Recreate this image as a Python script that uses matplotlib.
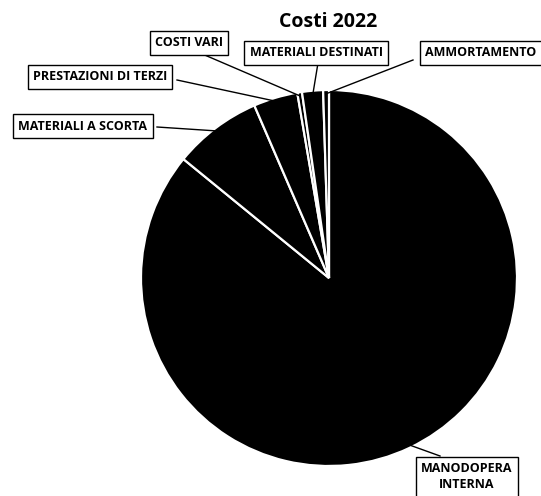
import numpy as np
import matplotlib
matplotlib.use("Agg")
import matplotlib.pyplot as plt

title = "Costi 2022"
categories = ["MANODOPERA\nINTERNA", "MATERIALI A SCORTA", "PRESTAZIONI DI TERZI",
              "COSTI VARI", "MATERIALI DESTINATI", "AMMORTAMENTO"]
values = [85.9, 7.6, 3.8, 0.4, 1.8, 0.5]

W, H = 541, 496
fig = plt.figure(figsize=(W / 100, H / 100), dpi=100)
ax = fig.add_axes([0, 0, 1, 1])

def P(x, y):
    return (x, H - y)

cx, cy = P(329, 278)
R = 188
wedges, _ = ax.pie(values, startangle=90, counterclock=False, center=(cx, cy), radius=R,
                   colors=["black"] * len(values),
                   wedgeprops=dict(edgecolor="white", linewidth=1.6))
ax.set_xlim(0, W)
ax.set_ylim(0, H)
ax.set_aspect("equal")
ax.axis("off")

fam = ["Open Sans", "DejaVu Sans"]
ax.text(*P(328, 22), title, ha="center", va="center", fontsize=14, family=fam,
        fontweight="bold")

# label box layout (pixels): text position, alignment, leader start
label_pos = [P(467, 477), P(83, 126), P(100, 77), P(189, 43), P(316, 53), P(425, 53)]
label_ha = ["center", "center", "center", "center", "center", "left"]
box_anchor = [P(440, 456), P(157, 127), P(177, 80), P(200, 53), P(318, 63), P(413, 60)]

for w, lab, pos, ha, anc in zip(wedges, categories, label_pos, label_ha, box_anchor):
    mid = np.deg2rad((w.theta1 + w.theta2) / 2)
    ex = cx + R * 0.98 * np.cos(mid)
    ey = cy + R * 0.98 * np.sin(mid)
    ax.plot([anc[0], ex], [anc[1], ey], color="black", lw=1.0, zorder=1)
    ax.text(pos[0], pos[1], lab, ha=ha, va="center", fontsize=9.0, family=fam,
            fontweight="bold", linespacing=1.3, clip_on=False,
            bbox=dict(boxstyle="square,pad=0.42", fc="white", ec="black", lw=1.0), zorder=5)

fig.savefig("out.png", dpi=100)
